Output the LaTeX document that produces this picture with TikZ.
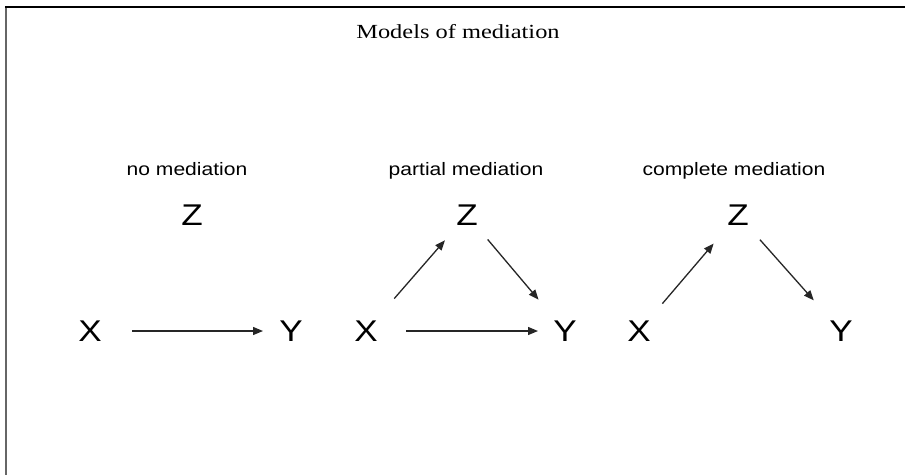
\documentclass[tikz,border=0pt]{standalone}
\usepackage{fontspec}
\usetikzlibrary{arrows.meta}
\newfontfamily\titlefont{Liberation Serif}[FakeStretch=1.22]
\newfontfamily\labfont{Liberation Sans}[FakeStretch=1.17]
\begin{document}
\begin{tikzpicture}[x=1pt,y=-1pt,
  titletext/.style={inner sep=0pt,anchor=base,font=\titlefont\fontsize{20}{24}\selectfont},
  subtext/.style={inner sep=0pt,anchor=base,font=\labfont\fontsize{18}{22}\selectfont},
  var/.style={inner sep=0pt,font=\labfont\fontsize{30}{36}\selectfont},
  arr/.style={-{Triangle[length=10pt,width=8pt]},line width=1.3pt,color=black!85}]
\useasboundingbox (0,0) rectangle (905,475);
\fill[white] (0,0) rectangle (905,475);
\draw[line width=2pt,black!60] (6,7) -- (6,475);
\draw[line width=2pt,black] (5,7) -- (905,7);

\node[titletext] (title) at (458,38) {Models of mediation};

\node[subtext] (s1) at (187,175) {no mediation};
\node[subtext] (s2) at (466,175) {partial mediation};
\node[subtext] (s3) at (734,175) {complete mediation};

\node[var] (z1) at (192,215) {Z};
\node[var] (x1) at (90,331) {X};
\node[var] (y1) at (291,331) {Y};

\node[var] (z2) at (467,215) {Z};
\node[var] (x2) at (366,331) {X};
\node[var] (y2) at (565,331) {Y};

\node[var] (z3) at (738,215) {Z};
\node[var] (x3) at (639,331) {X};
\node[var] (y3) at (841,331) {Y};

\draw[arr,shorten <=42pt,shorten >=28pt] (x1.center) -- (y1.center);

\draw[arr,shorten <=43pt,shorten >=33.6pt] (x2.center) -- (z2.center);
\draw[arr,shorten <=32pt,shorten >=41pt] (z2.center) -- (y2.center);
\draw[arr,shorten <=40pt,shorten >=27pt] (x2.center) -- (y2.center);

\draw[arr,shorten <=36pt,shorten >=37.5pt] (x3.center) -- (z3.center);
\draw[arr,shorten <=33pt,shorten >=41pt] (z3.center) -- (y3.center);
\end{tikzpicture}
\end{document}
